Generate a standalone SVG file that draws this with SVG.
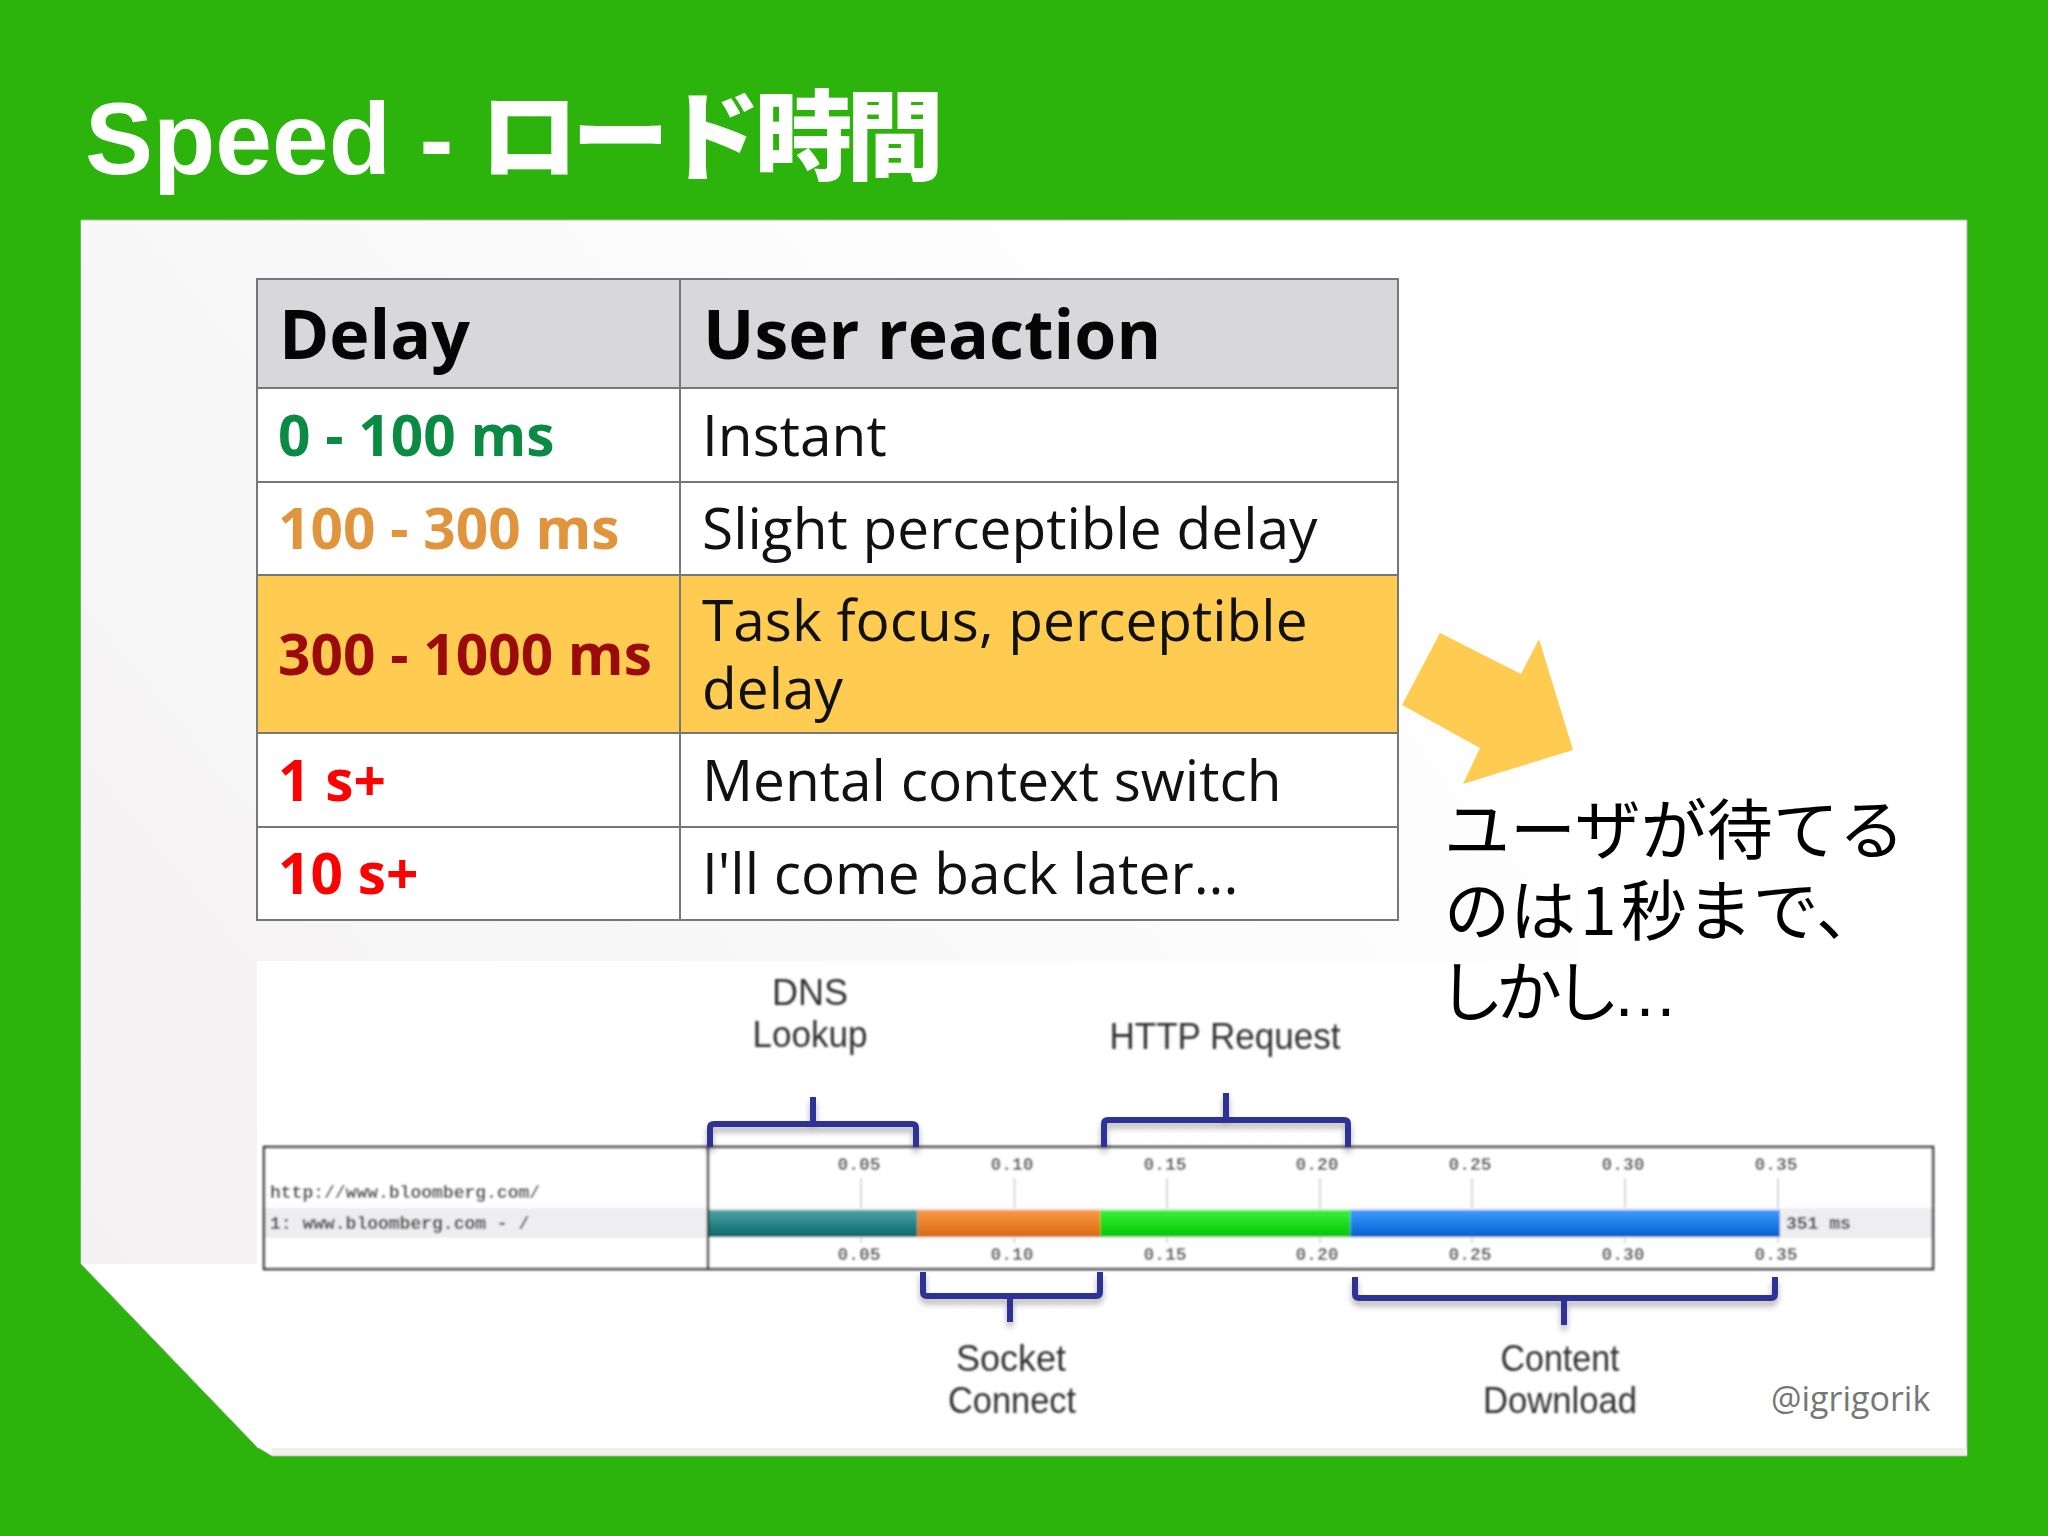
<svg xmlns="http://www.w3.org/2000/svg" width="2048" height="1536" viewBox="0 0 2048 1536">
<style>
.os{font-family:"Open Sans","Noto Sans",sans-serif}
.r{font-size:56.800px;fill:#111}
.d{font-size:56.800px;font-weight:700}
.h{font-size:68px;font-weight:700;fill:#050505}
.cj{font-family:"Noto Sans CJK JP",sans-serif;font-size:66px;fill:#000}
.gl{stroke:#777;stroke-width:2;fill:none}
.lb{font-family:"Liberation Sans",Arial,sans-serif;font-size:36px;fill:#333;text-anchor:middle}
.mono{font-family:"Liberation Mono","DejaVu Sans Mono",monospace;font-size:18px;fill:#444;font-weight:700}
.ax{text-anchor:middle;fill:#555}
.tk{stroke:#c9c9c9;stroke-width:1.5}
.br{fill:none;stroke:#2f3296;stroke-width:6;stroke-linejoin:round}
</style>
<defs>
<linearGradient id="pg" gradientUnits="userSpaceOnUse" x1="1250" y1="300" x2="81" y2="1264"><stop offset="0" stop-color="#ffffff"/><stop offset="1" stop-color="#f3f1f2"/></linearGradient>
<linearGradient id="g1" x1="0" y1="0" x2="0" y2="1"><stop offset="0" stop-color="#4ea3a5"/><stop offset="1" stop-color="#07686a"/></linearGradient>
<linearGradient id="g2" x1="0" y1="0" x2="0" y2="1"><stop offset="0" stop-color="#fb9a44"/><stop offset="1" stop-color="#d9680f"/></linearGradient>
<linearGradient id="g3" x1="0" y1="0" x2="0" y2="1"><stop offset="0" stop-color="#3cf23c"/><stop offset="1" stop-color="#02c402"/></linearGradient>
<linearGradient id="g4" x1="0" y1="0" x2="0" y2="1"><stop offset="0" stop-color="#409cff"/><stop offset="1" stop-color="#005fcf"/></linearGradient>
<filter id="sh" x="-10%" y="-30%" width="120%" height="170%"><feDropShadow dx="0" dy="5" stdDeviation="3" flood-color="#000" flood-opacity="0.3"/></filter>
<filter id="bl" x="-5%" y="-5%" width="110%" height="110%"><feGaussianBlur stdDeviation="0.8"/></filter>
</defs>
<rect width="2048" height="1536" fill="#2db40c"/>
<text id="title" x="85" y="174" font-family="Liberation Sans,Arial,sans-serif" font-size="102" font-weight="700" fill="#fff">Speed - <tspan x="480" y="172" font-family="Noto Sans CJK JP,sans-serif" font-size="98" font-weight="900" letter-spacing="-6.500">ロード時間</tspan></text>
<g id="panel">
<path d="M81 220H1967V1456H272L257 1447L81 1264Z" fill="#fff" stroke="#a9b8a5" stroke-width="1"/>
<rect x="81" y="221" width="1500" height="1043" fill="url(#pg)"/>
<rect x="272" y="1448" width="1695" height="7" fill="#efefed"/>
</g>
<g id="timeline-image">
<rect x="257" y="961" width="1463" height="487" fill="#fff"/>
<g filter="url(#bl)">
<rect x="264" y="1147" width="1669" height="122" fill="#fff"/>
<rect x="265" y="1208" width="1667" height="30" fill="#eeedef"/>
<path class="tk" d="M861 1178V1208M861 1238V1243M1014.500 1178V1208M1014.500 1238V1243M1167 1178V1208M1167 1238V1243M1320 1178V1208M1320 1238V1243M1472 1178V1208M1472 1238V1243M1625 1178V1208M1625 1238V1243M1778 1178V1208M1778 1238V1243"/>
<rect x="708" y="1210" width="209.500" height="27" fill="url(#g1)"/>
<rect x="917.500" y="1210" width="182.500" height="27" fill="url(#g2)"/>
<rect x="1100" y="1210" width="250.500" height="27" fill="url(#g3)"/>
<rect x="1350.500" y="1210" width="429.500" height="27" fill="url(#g4)"/>
<path d="M264 1147H1933V1269H264ZM708 1147V1269" fill="none" stroke="#333" stroke-width="2.500"/>
<text class="mono" x="270" y="1198">http://www.bloomberg.com/</text>
<text class="mono" x="270" y="1229">1: www.bloomberg.com - /</text>
<text class="mono" x="1786" y="1229">351 ms</text>
<g class="mono ax">
<text x="859" y="1170">0.05</text><text x="1012" y="1170">0.10</text><text x="1165" y="1170">0.15</text><text x="1317" y="1170">0.20</text><text x="1470" y="1170">0.25</text><text x="1623" y="1170">0.30</text><text x="1776" y="1170">0.35</text>
<text x="859" y="1260">0.05</text><text x="1012" y="1260">0.10</text><text x="1165" y="1260">0.15</text><text x="1317" y="1260">0.20</text><text x="1470" y="1260">0.25</text><text x="1623" y="1260">0.30</text><text x="1776" y="1260">0.35</text>
</g>
</g>
<g id="connectors" filter="url(#sh)">
<path class="br" d="M710 1147V1128Q710 1124 714 1124H912Q916 1124 916 1128V1147M813 1124V1097"/>
<path class="br" d="M1104 1147V1124Q1104 1120 1108 1120H1344Q1348 1120 1348 1124V1147M1226 1120V1093"/>
<path class="br" d="M923 1272V1292Q923 1296 927 1296H1096Q1100 1296 1100 1292V1272M1010 1296V1322"/>
<path class="br" d="M1355 1277V1294Q1355 1298 1359 1298H1771Q1775 1298 1775 1294V1277M1564 1298V1325"/>
</g>
<g filter="url(#bl)">
<text class="lb" x="810" y="1005">DNS</text>
<text class="lb" x="810" y="1047" textLength="115" lengthAdjust="spacingAndGlyphs">Lookup</text>
<text class="lb" x="1225" y="1049" textLength="231" lengthAdjust="spacingAndGlyphs">HTTP Request</text>
<text class="lb" x="1011" y="1371">Socket</text>
<text class="lb" x="1012" y="1413" textLength="128" lengthAdjust="spacingAndGlyphs">Connect</text>
<text class="lb" x="1560" y="1371" textLength="119" lengthAdjust="spacingAndGlyphs">Content</text>
<text class="lb" x="1560" y="1413" textLength="154" lengthAdjust="spacingAndGlyphs">Download</text>
</g>
<text class="os" x="1771" y="1411" font-size="34" fill="#777">@igrigorik</text>
</g>
<g id="table">
<rect x="257" y="279" width="1141" height="109" fill="#d8d7da"/>
<rect x="257" y="388" width="1141" height="532" fill="#fff"/>
<rect x="257" y="575" width="1141" height="158" fill="#ffcb50"/>
<path class="gl" d="M257 279H1398V920H257ZM680 279V920M257 388H1398M257 482H1398M257 575H1398M257 733H1398M257 827H1398"/>
<text class="os h" x="279" y="359">Delay</text>
<text class="os h" x="703" y="359">User reaction</text>
<text class="os d" x="278" y="456" fill="#0b8a43">0 - 100 ms</text>
<text class="os r" x="702" y="456">Instant</text>
<text class="os d" x="278" y="549" fill="#e0953c">100 - 300 ms</text>
<text class="os r" x="702" y="549">Slight perceptible delay</text>
<text class="os d" x="278" y="675" fill="#9c0b0b">300 - 1000 ms</text>
<text class="os r" x="702" y="641">Task focus, perceptible</text>
<text class="os r" x="702" y="709">delay</text>
<text class="os d" x="278" y="801" fill="#fe0000">1 s+</text>
<text class="os r" x="702" y="801">Mental context switch</text>
<text class="os d" x="278" y="894" fill="#fe0000">10 s+</text>
<text class="os r" x="702" y="894">I'll come back later...</text>
</g>
<polygon id="arrow" points="1440,633 1521,674 1539,639 1573,750 1463,784 1480,748 1402,705" fill="#ffcb50"/>
<g id="note">
<text class="cj" x="1444" y="854">ユーザが待てる</text>
<text class="cj" x="1444" y="935">のは<tspan dx="4">1</tspan><tspan dx="4">秒まで、</tspan></text>
<text class="cj" x="1438" y="1016"><tspan letter-spacing="-8">しかし</tspan><tspan font-family="Liberation Sans,sans-serif">…</tspan></text>
</g>
</svg>
